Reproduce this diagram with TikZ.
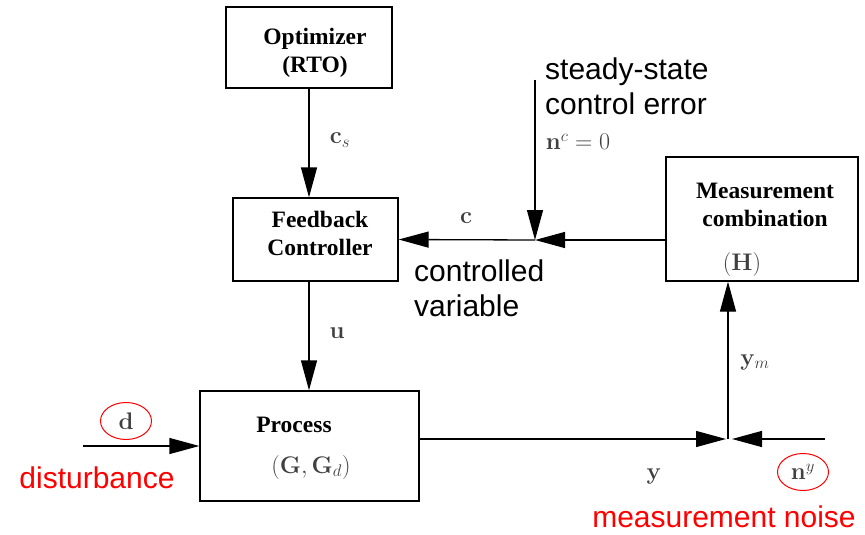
\RequirePackage{fix-cm}
\documentclass[tikz,border=0pt]{standalone}
\usepackage[no-math]{fontspec}
\setmainfont{Liberation Serif}
\newfontfamily\annotfont{Liberation Sans}
\usetikzlibrary{arrows.meta, shapes.geometric}
\tikzset{
  blk/.style={draw, line width=1.3pt},
  flow/.style={line width=1.3pt, -{Triangle[length=30pt, width=16pt]}},
  boxtxt/.style={font=\fontsize{23.5}{28}\selectfont\bfseries, align=center},
  sig/.style={font=\fontsize{24}{28}\selectfont, text=black!75},
  note/.style={font=\fontsize{30}{35}\selectfont\annotfont, align=left, inner sep=0pt},
  redring/.style={ellipse, draw=red, line width=1pt, minimum width=51pt, minimum height=37pt, inner sep=0pt}
}

\begin{document}
\begin{tikzpicture}[x=1pt, y=1pt, yscale=-1, xscale=1]
\useasboundingbox (0, 0) rectangle (865, 535);
%Blocks
\node[blk, minimum width=166pt, minimum height=81pt] (opt) at (309, 47.5) {};
\node[blk, minimum width=165pt, minimum height=83pt] (fb) at (315.5, 239.5) {};
\node[blk, minimum width=219pt, minimum height=110pt] (proc) at (309.5, 446) {};
\node[blk, minimum width=192pt, minimum height=124pt] (meas) at (762, 219) {};
%Junctions
\coordinate (jc) at (535, 240);
\coordinate (jy) at (728, 439);
\coordinate (nctop) at (535, 80);
\coordinate (dsrc) at (83, 446);
\coordinate (nsrc) at (825, 439);
%Signals
\draw[flow] (opt.south) -- (opt.south |- fb.north);
\draw[flow] (opt.south |- fb.south) -- (opt.south |- proc.north);
\draw[flow] (meas.west |- jc) -- (jc);
\draw[flow] (jc) -- (fb.east);
\draw[flow] (nctop) -- (jc);
\draw[flow] (dsrc) -- (proc.west);
\draw[flow, shorten >=2pt] (proc.east |- jy) -- (jy);
\draw[flow, shorten >=4pt] (nsrc) -- (jy);
\draw[flow] (jy) -- (jy |- meas.south);
%Text
\node[boxtxt] (optT) at (315, 53) {Optimizer\\(RTO)};
\node[boxtxt] (fbT) at (320, 233) {Feedback\\Controller};
\node[boxtxt] (procT) at (294, 425) {Process};
\node[sig] (procM) at (311, 467) {$(\mathbf{G},\mathbf{G}_d)$};
\node[boxtxt] (measT) at (765, 205) {Measurement\\combination};
\node[sig] (measM) at (742, 264) {$(\mathbf{H})$};
\node[sig] (cs) at (340, 140) {$\mathbf{c}_s$};
\node[sig] (u) at (337, 333) {$\mathbf{u}$};
\node[sig] (c) at (466, 218) {$\mathbf{c}$};
\node[sig] (nc) at (578, 142) {$\mathbf{n}^c = 0$};
\node[sig] (ym) at (755, 362) {$\mathbf{y}_m$};
\node[sig] (y) at (654, 476) {$\mathbf{y}$};
\node[redring, sig] (d) at (126, 421) {$\mathbf{d}$};
\node[redring, sig] (ny) at (803, 472) {$\mathbf{n}^y$};
\node[note, anchor=west] (sserr) at (545, 86) {steady-state\\control error};
\node[note, anchor=west] (cvar) at (414, 288) {controlled\\variable};
\node[note, text=red] (dist) at (97, 478) {disturbance};
\node[note, text=red] (mnoise) at (724, 517) {measurement noise};
\end{tikzpicture}
\end{document}
